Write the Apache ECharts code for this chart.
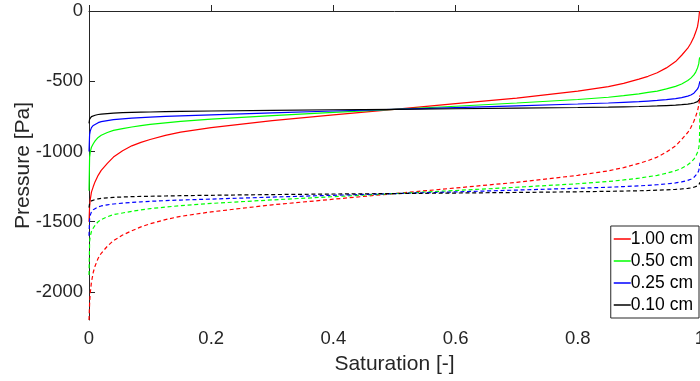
<!DOCTYPE html>
<html>
<head>
<meta charset="utf-8">
<script src="https://cdn.jsdelivr.net/npm/echarts@6/dist/echarts.min.js"></script>
<style>html,body{margin:0;padding:0;background:#fff}#c{width:700px;height:381px}</style>
</head>
<body>
<div id="c"></div>
<script>
// Saturation sample points
const sat = [0, 0.001, 0.002, 0.004, 0.007, 0.01, 0.015, 0.02, 0.03, 0.04,
  0.055, 0.07, 0.085, 0.1, 0.125, 0.15, 0.2, 0.3, 0.4, 0.5,
  0.6, 0.7, 0.8, 0.85, 0.875, 0.9, 0.915, 0.93, 0.945, 0.96,
  0.97, 0.98, 0.985, 0.99, 0.993, 0.996, 0.998, 0.999, 1];
const legendNames = ['1.00 cm', '0.50 cm', '0.25 cm', '0.10 cm'];
const yTicks = [0, -500, -1000, -1500, -2000];
// Solid curves (Pa)
const solid100 = [-1500, -1390, -1345, -1290, -1250, -1215, -1170, -1135, -1085, -1040,
  -995, -960, -935, -915, -885, -862, -830, -780, -740, -700,
  -660, -620, -570, -538, -515, -485, -465, -440, -405, -360,
  -315, -265, -230, -185, -150, -110, -55, -10, 0];
const solid050 = [-1280, -1040, -1005, -970, -945, -925, -900, -885, -865, -850,
  -838, -826, -816, -807, -796, -786, -770, -745, -722, -700,
  -678, -655, -630, -614, -603, -590, -580, -570, -555, -537,
  -520, -495, -478, -455, -435, -405, -375, -340, -330];
const solid025 = [-1000, -880, -855, -830, -815, -805, -795, -788, -780, -774,
  -768, -763, -759, -755, -750, -746, -739, -725, -712, -700,
  -688, -675, -662, -655, -650, -645, -641, -637, -631, -624,
  -617, -606, -598, -585, -573, -555, -535, -515, -500];
const solid010 = [-800, -770, -760, -752, -746, -742, -737, -734, -730, -727,
  -724, -722, -720, -719, -717, -715, -712, -707, -703, -700,
  -696, -692, -687, -684, -682, -680, -678, -676, -673, -670,
  -667, -663, -660, -655, -651, -645, -638, -630, -620];
// Dashed curves (Pa)
const dash100 = [-2200, -2080, -2010, -1930, -1860, -1815, -1760, -1725, -1675, -1635,
  -1595, -1565, -1537, -1515, -1485, -1462, -1430, -1380, -1340, -1300,
  -1260, -1220, -1170, -1138, -1115, -1085, -1065, -1040, -1005, -960,
  -915, -865, -830, -785, -750, -710, -670, -640, -600];
const dash050 = [-1880, -1640, -1605, -1570, -1545, -1525, -1500, -1485, -1465, -1450,
  -1438, -1426, -1416, -1407, -1396, -1386, -1370, -1345, -1322, -1300,
  -1278, -1255, -1230, -1214, -1203, -1190, -1180, -1170, -1155, -1137,
  -1120, -1095, -1078, -1055, -1035, -1005, -975, -940, -720];
const dash025 = [-1600, -1480, -1455, -1430, -1415, -1405, -1395, -1388, -1380, -1374,
  -1368, -1363, -1359, -1355, -1350, -1346, -1339, -1325, -1312, -1300,
  -1288, -1275, -1262, -1255, -1250, -1245, -1241, -1237, -1231, -1224,
  -1217, -1206, -1198, -1185, -1173, -1155, -1135, -1115, -1080];
const dash010 = [-1400, -1370, -1360, -1352, -1346, -1342, -1337, -1334, -1330, -1327,
  -1324, -1322, -1320, -1319, -1317, -1315, -1312, -1307, -1303, -1300,
  -1296, -1292, -1287, -1284, -1282, -1280, -1278, -1276, -1273, -1270,
  -1267, -1263, -1260, -1255, -1251, -1245, -1238, -1230, -1220];

const colors = ['#ff0000', '#00ff00', '#0000ff', '#000000'];
const solids = [solid100, solid050, solid025, solid010];
const dashes = [dash100, dash050, dash025, dash010];
const pairs = v => sat.map((s, i) => [s, v[i]]);

const series = [];
solids.forEach((v, k) => series.push({
  name: legendNames[k], type: 'line', data: pairs(v), symbol: 'none', showSymbol: false, smooth: false,
  lineStyle: { color: colors[k], width: 1.2 }, itemStyle: { color: colors[k] }, z: 3
}));
dashes.forEach((v, k) => series.push({
  name: legendNames[k] + ' d', type: 'line', data: pairs(v), symbol: 'none', showSymbol: false, smooth: false,
  lineStyle: { color: colors[k], width: 1.2, type: [4, 2.7] }, itemStyle: { color: colors[k] }, z: 3
}));

const txt = '#262626';
const font = 'Liberation Sans, Arial, Helvetica, sans-serif';
const chart = echarts.init(document.getElementById('c'), null, { renderer: 'canvas' });
chart.setOption({
  animation: false,
  backgroundColor: '#fff',
  grid: { left: 89, right: 0, top: 11, bottom: 61, containLabel: false, outerBoundsMode: 'none' },
  xAxis: {
    type: 'value', min: 0, max: 1, interval: 0.2,
    name: 'Saturation [-]', nameLocation: 'middle', nameGap: 34, nameMoveOverlap: false,
    nameTextStyle: { color: txt, fontSize: 21, fontFamily: font },
    axisLine: { lineStyle: { color: txt, width: 1 } },
    axisTick: { inside: true, length: 6, lineStyle: { color: txt } },
    axisLabel: { color: txt, fontSize: 18.5, fontFamily: font, margin: 9, formatter: v => String(v) },
    splitLine: { show: false }
  },
  yAxis: {
    type: 'value', min: -2200, max: 0,
    name: 'Pressure [Pa]', nameLocation: 'middle', nameGap: 55, nameMoveOverlap: false,
    nameTextStyle: { color: txt, fontSize: 21, fontFamily: font },
    axisLine: { show: true, lineStyle: { color: txt, width: 1 } },
    axisTick: { show: true, inside: true, length: 6, lineStyle: { color: txt }, customValues: yTicks },
    axisLabel: { color: txt, fontSize: 18.5, fontFamily: font, margin: 6, customValues: yTicks, formatter: v => String(v) },
    splitLine: { show: false }
  },
  legend: {
    data: legendNames, orient: 'vertical', right: 1, top: 226,
    backgroundColor: '#fff', borderColor: txt, borderWidth: 1, borderRadius: 0,
    padding: [4, 6, 4, 3], itemGap: 4, itemWidth: 17, itemHeight: 1.5, icon: 'rect',
    textStyle: { color: '#000', fontSize: 17.5, fontFamily: font, padding: [0, 0, 0, -5] }
  },
  series: series
});
</script>
</body>
</html>
